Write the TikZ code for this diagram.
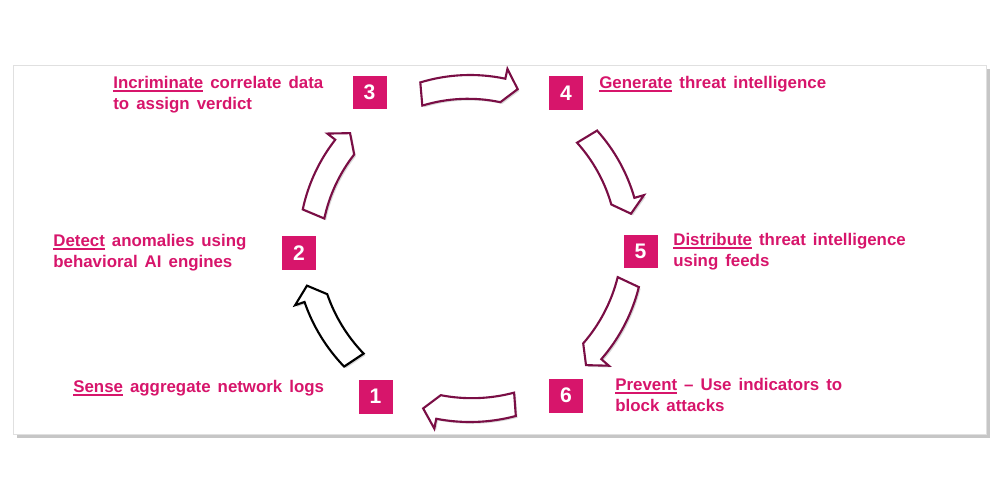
\documentclass[tikz,border=0pt]{standalone}
\usepackage{fontspec}
\setmainfont{Liberation Sans}[WordSpace=1.5]
\usetikzlibrary{shadows}

\definecolor{pinkred}{HTML}{D7156B}
\definecolor{darkberry}{HTML}{7A0E45}

\newcommand{\notefont}{\fontsize{9.6}{12}\selectfont\bfseries}

% line under the first word of a step text: {node}{word}
\newcommand{\markword}[2]{%
  {\notefont\pgfmathwidth{"#2"}\xdef\wordw{\pgfmathresult}}%
  \draw[wordline] ([yshift=-8.6pt]#1.north west) -- ++(\wordw pt,0);}

% curved block arrow around the hub: [outline]{radius}{from angle}{to angle}
\newcommand{\headang}{5}
\newcommand{\cyclearrow}[4][darkberry]{%
  \pgfmathsetmacro{\neck}{#4-\headang}%
  \pgfmathsetmacro{\ro}{#2+7}%
  \pgfmathsetmacro{\ri}{#2-7}%
  \pgfmathsetmacro{\wo}{#2+17}%
  \pgfmathsetmacro{\wi}{#2-17}%
  \filldraw[blockarrow,draw=#1] (#3:\ro) arc[start angle=#3,end angle=\neck,radius=\ro]
    -- (\neck:\wo) -- (#4:#2) -- (\neck:\wi)
    arc[start angle=\neck,end angle=#3,radius=\ri] -- cycle;}

\begin{document}
\begin{tikzpicture}[x=0.02cm,y=-0.02cm,
  card/.style={fill=white,draw=black!12,line width=0.3pt,
    drop shadow={shadow xshift=2.5pt,shadow yshift=-2.5pt,opacity=0.45}},
  numbox/.style={fill=pinkred,text=white,minimum size=0.68cm,inner sep=0pt,
    font=\fontsize{12}{12}\selectfont\bfseries},
  stepnote/.style={text=pinkred,align=left,inner sep=0pt,anchor=north west,
    font=\notefont},
  wordline/.style={draw=pinkred,line width=0.8pt},
  blockarrow/.style={fill=white,line width=1.2pt,line join=miter,
    drop shadow={shadow xshift=1pt,shadow yshift=-1pt,opacity=0.3}}]
  \useasboundingbox (0,0) rectangle (1000,500);
  \filldraw[card] (13,65) rectangle (986,434);

  \node[numbox] (n1) at (375.5,396.5) {1};
  \node[numbox] (n2) at (299,253) {2};
  \node[numbox] (n3) at (369.5,92.5) {3};
  \node[numbox] (n4) at (566,93) {4};
  \node[numbox] (n5) at (640.5,251.5) {5};
  \node[numbox] (n6) at (566,395.5) {6};

  \node[stepnote] (t1) at (73,380) {Sense aggregate network logs};
  \node[stepnote] (t2) at (53,234) {Detect anomalies using\\behavioral AI engines};
  \node[stepnote] (t3) at (113,76) {Incriminate correlate data\\to assign verdict};
  \node[stepnote] (t4) at (599,76) {Generate threat intelligence};
  \node[stepnote] (t5) at (673,233) {Distribute threat intelligence\\using feeds};
  \node[stepnote] (t6) at (615,378) {Prevent -- Use indicators to\\block attacks};
  \foreach \t/\w in {t1/Sense,t2/Detect,t3/Incriminate,t4/Generate,t5/Distribute,t6/Prevent}
    {\markword{\t}{\w}}

  \coordinate (hub) at (470,245);
  \begin{scope}[shift={(hub)}]
    \cyclearrow[black]{168}{136}{166}
    \cyclearrow{164}{192}{223}
    \cyclearrow{163}{253}{287}
    \cyclearrow{164}{318}{349}
    \cyclearrow{167}{14}{46}
    \cyclearrow{170}{75}{106}
  \end{scope}
\end{tikzpicture}
\end{document}
